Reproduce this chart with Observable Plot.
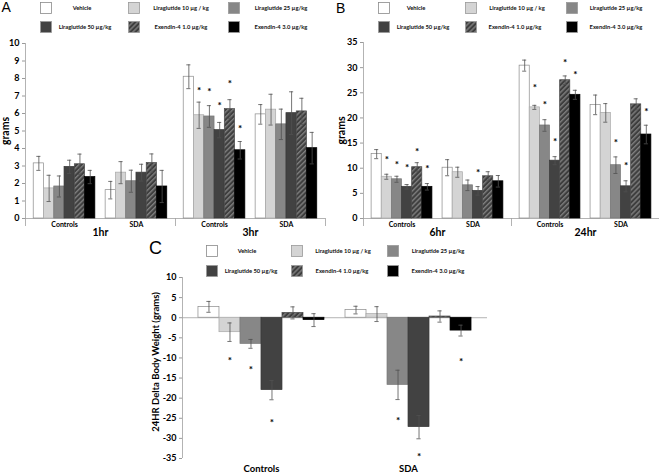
<!DOCTYPE html>
<html><head><meta charset="utf-8">
<script src="https://cdn.jsdelivr.net/npm/d3@7"></script>
<script src="https://cdn.jsdelivr.net/npm/@observablehq/plot@0.6"></script>
<style>
body{margin:0;background:#fff;}
#root{position:relative;width:659px;height:473px;overflow:hidden;background:#fff;font-family:Lato,"Open Sans",sans-serif;}
.panel{position:absolute;}
.letter{position:absolute;font-family:"Liberation Sans",Arial,sans-serif;line-height:1;color:#000;}
.sw{position:absolute;}
.lt{position:absolute;font-size:5.8px;font-weight:bold;white-space:nowrap;transform:translate(-50%,-50%);color:#111;}
svg{overflow:visible}
[aria-label="y-axis"] .tick line, [aria-label="y-axis tick"]{stroke:#9a9a9a}
</style></head>
<body>
<svg width="0" height="0" style="position:absolute"><defs>
<pattern id="hatch" patternUnits="userSpaceOnUse" width="3.5" height="3.5" patternTransform="rotate(45)">
<rect width="3.5" height="3.5" fill="#3e3e3e"></rect><rect width="1.4" height="3.5" fill="#7e7e7e"></rect>
</pattern></defs></svg>
<div id="root"></div>
<script>
// ---------- data ----------
const seriesNames = ["Vehicle", "Liraglutide 10 µg / kg", "Liraglutide 25 µg/kg", "Liraglutide 50 µg/kg", "Exendin-4 1.0 µg/kg", "Exendin-4 3.0 µg/kg"];
const groupNames = ["Controls", "SDA"];
const timesA = ["1hr", "3hr"];
const timesB = ["6hr", "24hr"];
const ticksA = [0, 1, 2, 3, 4, 5, 6, 7, 8, 9, 10];
const ticksB = [0, 5, 10, 15, 20, 25, 30, 35];
const ticksC = [-35, -30, -25, -20, -15, -10, -5, 0, 5, 10];
const yLabelAB = "grams";
const yLabelC = "24HR Delta Body Weight (grams)";

// Panel A (grams)
const a1hrControls = [3.15, 1.72, 1.83, 2.95, 3.1, 2.37];
const a1hrControlsErr = [0.4, 0.75, 0.6, 0.38, 0.58, 0.38];
const a1hrSDA = [1.62, 2.62, 2.13, 2.62, 3.17, 1.83];
const a1hrSDAErr = [0.5, 0.63, 0.63, 0.48, 0.52, 0.92];
const a3hrControls = [8.1, 5.9, 5.83, 5.05, 6.25, 3.9];
const a3hrControlsErr = [0.68, 0.75, 0.62, 0.44, 0.54, 0.5];
const a3hrControlsStar = [null, 7.45, 7.4, 6.62, 7.85, 5.3];
const a3hrSDA = [5.95, 6.22, 5.38, 6.02, 6.12, 4.02];
const a3hrSDAErr = [0.56, 0.88, 0.87, 1.22, 0.75, 0.9];

// Panel B (grams)
const b6hrControls = [12.8, 8.3, 7.8, 6.3, 10.2, 6.3];
const b6hrControlsErr = [0.9, 0.5, 0.6, 0.45, 0.9, 0.65];
const b6hrControlsStar = [null, 12.2, 11.2, 10.6, 13.9, 10.5];
const b6hrSDA = [10.1, 9.2, 6.6, 5.5, 8.4, 7.4];
const b6hrSDAErr = [1.6, 1.0, 1.05, 0.85, 0.9, 1.15];
const b6hrSDAStar = [null, null, null, 9.7, null, null];
const b24hrControls = [30.4, 22.1, 18.5, 11.5, 27.5, 24.6];
const b24hrControlsErr = [1.1, 0.4, 1.15, 0.8, 0.85, 0.9];
const b24hrControlsStar = [null, 26.5, 23.2, 15.9, 31.5, 29.1];
const b24hrSDA = [22.6, 21.0, 10.6, 6.4, 22.7, 16.7];
const b24hrSDAErr = [1.95, 1.85, 1.65, 1.1, 1.1, 1.85];
const b24hrSDAStar = [null, null, 15.7, 11.0, null, 21.9];

// Panel C (24HR delta body weight, grams)
const cControls = [2.7, -3.6, -6.5, -18.0, 1.2, -0.6];
const cControlsErr = [1.35, 2.3, 1.1, 2.4, 1.5, 1.6];
const cControlsStar = [null, -10.0, -12.3, -25.3, null, null];
const cSDA = [1.9, 0.9, -16.7, -27.2, 0.3, -3.2];
const cSDAErr = [0.95, 1.85, 3.65, 2.9, 1.4, 1.35];
const cSDAStar = [null, null, -25.0, -33.9, null, -10.1];

// ---------- styles ----------
const fills = ["#ffffff", "#d4d4d4", "#878787", "#424242", "url(#hatch)", "#000000"];
const strokes = ["#8a8a8a", "#a8a8a8", "#777777", "#383838", "#4a4a4a", "#000000"];
const FONT = "Lato, 'Open Sans', sans-serif";

function buildRows(times, blocks, layout) {
  const T = 2 * layout.outer + 12 + layout.gap;
  const rows = [];
  times.forEach((t, ti) => groupNames.forEach((g, gi) => {
    const b = blocks[ti][gi];
    seriesNames.forEach((name, si) => {
      rows.push({time: t, group: g, series: si, name,
        mean: b.m[si], err: b.e[si], star: b.s ? b.s[si] : null,
        x: ti * T + layout.outer + gi * (6 + layout.gap) + si});
    });
  }));
  const groupLabels = [], timeLabels = [];
  times.forEach((t, ti) => {
    timeLabels.push({text: t, x: ti * T + T / 2});
    groupNames.forEach((g, gi) => groupLabels.push({text: g, x: ti * T + layout.outer + gi * (6 + layout.gap) + 3}));
  });
  const bounds = d3.range(times.length + 1).map(i => i * T);
  return {rows, groupLabels, timeLabels, bounds, xMax: times.length * T};
}

function makePanel(o) {
  const {rows, groupLabels, timeLabels, bounds, xMax} = o.built;
  const plotH = o.height - o.mt - o.mb;
  const perPx = (o.yDomain[1] - o.yDomain[0]) / plotH;
  const yBase = o.yDomain[0] < 0 ? o.yDomain[0] : 0;
  const marks = [
    Plot.ruleX([0], {stroke: "#a0a0a0", strokeWidth: 0.8}),
    Plot.ruleY([0], {stroke: "#a0a0a0", strokeWidth: 0.8}),
    Plot.rect(rows, {x1: d => d.x, x2: d => d.x + 1, y1: 0, y2: "mean",
      fill: d => fills[d.series], stroke: d => strokes[d.series], strokeWidth: 0.7}),
    Plot.ruleX(rows, {x: d => d.x + 0.5, y1: d => d.mean - d.err, y2: d => d.mean + d.err, stroke: "#505050", strokeWidth: 0.8}),
    Plot.ruleY(rows, {y: d => d.mean + d.err, x1: d => d.x + 0.5 - o.cap, x2: d => d.x + 0.5 + o.cap, stroke: "#505050", strokeWidth: 0.8}),
    Plot.ruleY(rows, {y: d => d.mean - d.err, x1: d => d.x + 0.5 - o.cap, x2: d => d.x + 0.5 + o.cap, stroke: "#505050", strokeWidth: 0.8}),
    Plot.text(rows.filter(d => d.star != null), {x: d => d.x + 0.5, y: "star", text: () => "*", fontSize: 10, fontWeight: "bold", dy: 3, fill: "#000"}),
    Plot.text(groupLabels, {x: "x", y: () => yBase, text: "text", dy: o.groupDy, fontSize: o.groupFont, fontWeight: "bold", fill: "#000"}),
    Plot.text([o.yLabel], {frameAnchor: "left", textAnchor: "middle", text: d => d, dx: o.yLabelDx, dy: o.yLabelDy || 0, rotate: -90, fontSize: o.yLabelFont, fontWeight: "bold", fill: "#000"})
  ];
  if (o.showTimes) {
    marks.push(Plot.text(timeLabels, {x: "x", y: () => 0, text: "text", dy: o.timeDy, fontSize: 10.5, fontWeight: "bold", fill: "#000"}));
    marks.push(Plot.ruleX(bounds, {x: d => d, y1: 0, y2: -8 * perPx, stroke: "#a0a0a0", strokeWidth: 0.8}));
  }
  const svg = Plot.plot({
    width: o.width, height: o.height,
    marginLeft: o.ml, marginRight: o.mr, marginTop: o.mt, marginBottom: o.mb,
    x: {domain: [0, xMax], axis: null},
    y: {domain: o.yDomain, ticks: o.ticks, tickSize: 3, tickPadding: 3, label: null, tickFormat: d => String(d)},
    color: {type: "identity"},
    style: {fontFamily: FONT, fontSize: "9px", fontWeight: "bold", background: "transparent", overflow: "visible", color: "#000"},
    marks
  });
  const div = document.createElement("div");
  div.className = "panel";
  div.style.left = o.left + "px";
  div.style.top = o.top + "px";
  div.appendChild(svg);
  document.getElementById("root").appendChild(div);
}

function makeLegend(ox, oy, boxX, rowY, textX1, textX2, letter, lx, ly, lsize) {
  const root = document.getElementById("root");
  const L = document.createElement("div");
  L.className = "letter";
  L.textContent = letter;
  L.style.left = lx + "px"; L.style.top = ly + "px"; L.style.fontSize = lsize + "px";
  root.appendChild(L);
  seriesNames.forEach((name, i) => {
    const r = Math.floor(i / 3), c = i % 3;
    const sw = document.createElementNS("http://www.w3.org/2000/svg", "svg");
    sw.setAttribute("width", 12); sw.setAttribute("height", 12);
    sw.setAttribute("class", "sw");
    sw.style.left = (ox + boxX[c]) + "px";
    sw.style.top = (oy + rowY[r]) + "px";
    const rect = document.createElementNS("http://www.w3.org/2000/svg", "rect");
    rect.setAttribute("x", 0.5); rect.setAttribute("y", 0.5);
    rect.setAttribute("width", 11); rect.setAttribute("height", 11);
    rect.setAttribute("fill", fills[i]);
    rect.setAttribute("stroke", i === 0 ? "#8a8a8a" : "#9a9a9a");
    rect.setAttribute("stroke-width", 0.8);
    sw.appendChild(rect);
    root.appendChild(sw);
    const t = document.createElement("div");
    t.className = "lt";
    t.textContent = name;
    t.style.left = (ox + (r === 0 ? textX1 : textX2)[c]) + "px";
    t.style.top = (oy + rowY[r] + 4.5) + "px";
    root.appendChild(t);
  });
}

const layoutAB = {outer: 0.8, gap: 1};
const layoutC = {outer: 0.76, gap: 1};

const builtA = buildRows(timesA, [
  [{m: a1hrControls, e: a1hrControlsErr}, {m: a1hrSDA, e: a1hrSDAErr}],
  [{m: a3hrControls, e: a3hrControlsErr, s: a3hrControlsStar}, {m: a3hrSDA, e: a3hrSDAErr}]
], layoutAB);
const builtB = buildRows(timesB, [
  [{m: b6hrControls, e: b6hrControlsErr, s: b6hrControlsStar}, {m: b6hrSDA, e: b6hrSDAErr, s: b6hrSDAStar}],
  [{m: b24hrControls, e: b24hrControlsErr, s: b24hrControlsStar}, {m: b24hrSDA, e: b24hrSDAErr, s: b24hrSDAStar}]
], layoutAB);
const builtC = buildRows([""], [
  [{m: cControls, e: cControlsErr, s: cControlsStar}, {m: cSDA, e: cSDAErr, s: cSDAStar}]
], layoutC);

makePanel({built: builtA, left: 0, top: 0, width: 330, height: 242, ml: 25, mr: 5, mt: 43, mb: 24,
  yDomain: [0, 10], ticks: ticksA, cap: 0.2, groupDy: 6, groupFont: 7, timeDy: 14.5, showTimes: true,
  yLabel: yLabelAB, yLabelDx: -20, yLabelFont: 10.5});
makePanel({built: builtB, left: 330, top: 0, width: 329, height: 242, ml: 33, mr: 0, mt: 42, mb: 24,
  yDomain: [0, 35], ticks: ticksB, cap: 0.2, groupDy: 6, groupFont: 7, timeDy: 14.5, showTimes: true,
  yLabel: yLabelAB, yLabelDx: -22, yLabelFont: 10.5});
makePanel({built: builtC, left: 140, top: 240, width: 360, height: 233, ml: 42, mr: 13, mt: 37, mb: 15,
  yDomain: [-35, 10], ticks: ticksC, cap: 0.1, groupDy: 10, groupFont: 9.5, showTimes: false,
  yLabel: yLabelC, yLabelDx: -27, yLabelDy: -6, yLabelFont: 9.5});

makeLegend(40, 2, [0, 88, 188], [0, 19], [42, 141, 241], [45, 141, 241], "A", 1.5, 0, 14);
makeLegend(378, 2, [0, 87, 188], [0, 19], [38, 139, 238], [45, 137, 238], "B", 336, 0.5, 14);
makeLegend(206, 245, [0, 85, 181], [0, 20], [41, 137, 232], [45, 136, 232], "C", 149, 239, 18);
</script>
</body></html>
